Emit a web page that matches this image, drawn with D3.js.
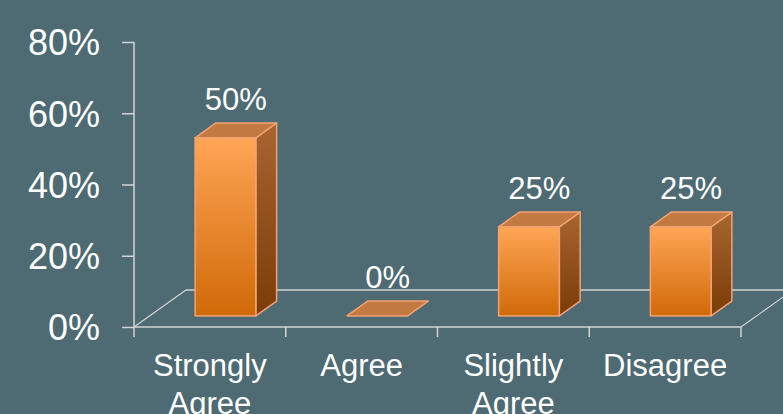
<!DOCTYPE html>
<html>
<head>
<meta charset="utf-8">
<script src="https://cdn.jsdelivr.net/npm/d3@7"></script>
<style>
  html, body { margin: 0; padding: 0; background: #4e6a72; }
  svg { display: block; }
</style>
</head>
<body>
<div id="chart"></div>
<script>
// 3D column chart: survey responses
const categories = ["Strongly Agree", "Agree", "Slightly Agree", "Disagree"];
const values = [0.50, 0, 0.25, 0.25];
const yTicks = [0, 0.2, 0.4, 0.6, 0.8];

const width = 783, height = 414;
const axisX = 134, floorY = 327, topY = 42, rightX = 741;
const depth = {dx: 52, dy: -37};      // floor depth projection
const barFront = 0.3, barBack = 0.7;  // bar position inside floor depth
const tickFont = 36, labelFont = 31;
const lineColor = "#d4d4d4";

const svg = d3.select("#chart")
  .append("svg")
  .attr("width", width)
  .attr("height", height)
  .attr("viewBox", `0 0 ${width} ${height}`)
  .style("font-family", "'Liberation Sans', Arial, sans-serif");

svg.append("rect").attr("width", width).attr("height", height).attr("fill", "#4e6a72");

const x = d3.scaleBand().domain(categories).range([axisX, rightX]).paddingInner(0).paddingOuter(0);
const y = d3.scaleLinear().domain([0, 0.8]).range([floorY, topY]);

const defs = svg.append("defs");
const gFront = defs.append("linearGradient").attr("id", "front").attr("x1", 0).attr("y1", 0).attr("x2", 0).attr("y2", 1);
gFront.append("stop").attr("offset", "0%").attr("stop-color", "#ffa555");
gFront.append("stop").attr("offset", "100%").attr("stop-color", "#d06a08");
const gSide = defs.append("linearGradient").attr("id", "side").attr("x1", 0).attr("y1", 0).attr("x2", 0).attr("y2", 1);
gSide.append("stop").attr("offset", "0%").attr("stop-color", "#a8652f");
gSide.append("stop").attr("offset", "100%").attr("stop-color", "#7a3c08");

// floor
const back = {x: axisX + depth.dx, y: floorY + depth.dy};
svg.append("line").attr("x1", back.x).attr("y1", back.y).attr("x2", rightX + depth.dx).attr("y2", back.y)
  .attr("stroke", lineColor).attr("stroke-width", 1.5);
svg.append("line").attr("x1", axisX).attr("y1", floorY).attr("x2", back.x).attr("y2", back.y)
  .attr("stroke", lineColor).attr("stroke-width", 1.2);
svg.append("line").attr("x1", rightX).attr("y1", floorY).attr("x2", rightX + depth.dx).attr("y2", back.y)
  .attr("stroke", lineColor).attr("stroke-width", 1.2);

// y axis
const yAxis = svg.append("g").attr("transform", `translate(${axisX},0)`)
  .call(d3.axisLeft(y).tickValues(yTicks).tickFormat(d3.format(".0%")).tickSize(12).tickPadding(22));
yAxis.select(".domain").attr("stroke", lineColor).attr("stroke-width", 1.5).attr("d", `M0,${topY}V${floorY}`);
yAxis.selectAll(".tick line").attr("stroke", lineColor).attr("stroke-width", 1.5);
yAxis.selectAll(".tick text").attr("fill", "#fff").attr("font-size", tickFont)
  .attr("font-family", "'Liberation Sans', Arial, sans-serif").attr("dy", "0.36em");

// x axis (front edge of floor)
const xAxis = svg.append("g").attr("transform", `translate(0,${floorY})`);
xAxis.append("line").attr("x1", axisX).attr("x2", rightX).attr("stroke", lineColor).attr("stroke-width", 1.5);
const bounds = categories.map(c => x(c)).concat([rightX]);
xAxis.selectAll("line.tk").data(bounds).join("line").attr("class", "tk")
  .attr("x1", d => d).attr("x2", d => d).attr("y1", 0).attr("y2", 10)
  .attr("stroke", lineColor).attr("stroke-width", 1.5);

xAxis.selectAll("text").data(categories).join("text")
  .attr("x", d => x(d) + x.bandwidth() / 2)
  .attr("y", 49)
  .attr("text-anchor", "middle")
  .attr("fill", "#fff")
  .attr("font-size", labelFont)
  .each(function (d) {
    const words = d.split(" ");
    const t = d3.select(this);
    words.forEach((w, i) => {
      t.append("tspan").attr("x", x(d) + x.bandwidth() / 2).attr("dy", i === 0 ? 0 : "1.24em").text(w);
    });
  });

// bars
const bw = x.bandwidth() * 0.4;
const f0 = {dx: depth.dx * barFront * 1.0, dy: depth.dy * barFront};
const bd = {dx: depth.dx * 0.4, dy: depth.dy * 0.4};
const pts = a => a.map(p => p.join(",")).join(" ");

const bars = svg.append("g").selectAll("g").data(categories.map((c, i) => ({c, v: values[i]}))).join("g");
bars.each(function (d) {
  const g = d3.select(this);
  const xl = x(d.c) + x.bandwidth() / 2 - bw / 2 + f0.dx;
  const xr = xl + bw;
  const yb = y(0) + f0.dy;
  const yt = y(d.v) + f0.dy;
  const stroke = "#f4a174";
  if (d.v > 0) {
    g.append("polygon").attr("points", pts([[xr, yb], [xr + bd.dx, yb + bd.dy], [xr + bd.dx, yt + bd.dy], [xr, yt]]))
      .attr("fill", "url(#side)").attr("stroke", stroke).attr("stroke-width", 1.5).attr("stroke-linejoin", "round");
    g.append("rect").attr("x", xl).attr("y", yt).attr("width", bw).attr("height", yb - yt)
      .attr("fill", "url(#front)").attr("stroke", stroke).attr("stroke-width", 1.5);
  }
  g.append("polygon").attr("points", pts([[xl, yt], [xr, yt], [xr + bd.dx, yt + bd.dy], [xl + bd.dx, yt + bd.dy]]))
    .attr("fill", "#c37a40").attr("stroke", stroke).attr("stroke-width", 1.5).attr("stroke-linejoin", "round");
  g.append("text")
    .attr("x", xl + bw / 2 + bd.dx / 2)
    .attr("y", yt + bd.dy - 13)
    .attr("text-anchor", "middle")
    .attr("fill", "#fff")
    .attr("font-size", labelFont)
    .text(d3.format(".0%")(d.v));
});
</script>
</body>
</html>
